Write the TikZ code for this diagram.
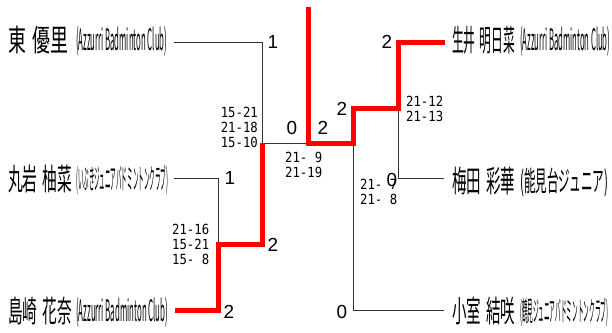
\documentclass[tikz,border=0pt]{standalone}
\usepackage{fontspec}
\setmainfont{Noto Sans CJK JP}
\newfontfamily\numfont{Liberation Sans}
\newfontfamily\scorefont[FakeStretch=0.88]{DejaVu Sans Mono}
\begin{document}
\begin{tikzpicture}[x=1bp,y=-1bp,
  wire/.style={draw=black!80, line width=1bp},
  win/.style={draw=red, line width=5bp, line join=miter},
  pname/.style={anchor=west, inner sep=0pt},
  club/.style={anchor=west, inner sep=0pt},
  pts/.style={inner sep=0pt, font=\numfont\fontsize{19}{19}\selectfont},
  score/.style={inner sep=0pt, align=left, font=\scorefont\fontsize{14}{15}\selectfont}]
\useasboundingbox (0,0) rectangle (612,332);
% players left
\node[pname] (n1) at (8,40) {\resizebox*{60bp}{28bp}{東\hspace{0.35em}優里}};
\node[club] (c1) at (76,41) {\resizebox*{91bp}{30bp}{(Azzurri Badminton Club)}};
\node[pname] (n2) at (8,179) {\resizebox*{64bp}{28bp}{丸岩\hspace{0.35em}柚菜}};
\node[club] (c2) at (76,180) {\resizebox*{92bp}{30bp}{(いぶきジュニアバドミントンクラブ)}};
\node[pname] (n3) at (8,311) {\resizebox*{64bp}{28bp}{島崎\hspace{0.35em}花奈}};
\node[club] (c3) at (76,312) {\resizebox*{92bp}{30bp}{(Azzurri Badminton Club)}};
% players right
\node[pname] (n4) at (452,40) {\resizebox*{63bp}{28bp}{生井\hspace{0.35em}明日菜}};
\node[club] (c4) at (520,41) {\resizebox*{90bp}{30bp}{(Azzurri Badminton Club)}};
\node[pname] (n5) at (452,181) {\resizebox*{63bp}{28bp}{梅田\hspace{0.35em}彩華}};
\node[club] (c5) at (520,182) {\resizebox*{88bp}{29bp}{(能見台ジュニア)}};
\node[pname] (n6) at (452,311) {\resizebox*{63bp}{28bp}{小室\hspace{0.35em}結咲}};
\node[club] (c6) at (520,312) {\resizebox*{88bp}{29bp}{(鶴見ジュニアバドミントンクラブ)}};
% bracket coordinates
\coordinate (p1) at (174,42);
\coordinate (p2) at (174,178);
\coordinate (p3) at (175,310);
\coordinate (q1) at (445,42);
\coordinate (q2) at (444,178);
\coordinate (q3) at (444,310);
\coordinate (m23) at (218,244);
\coordinate (sL) at (262,143);
\coordinate (f) at (308,143);
\coordinate (top) at (308,7);
\coordinate (m45) at (398,108);
\coordinate (sR) at (353,143);
% losing lines
\draw[wire] (p1) -| (sL);
\draw[wire] (p2) -| (m23);
\draw[wire] (sL) -- (f);
\draw[wire] (m45) |- (q2);
\draw[wire] (sR) |- (q3);
% winning lines
\draw[win] (p3) -| (m23) -| (sL);
\draw[win] (top) -- (f) -- (sR) |- (m45) |- (q1);
% points
\node[pts] (g1) at (273,42) {1};
\node[pts] (g2) at (230,178) {1};
\node[pts] (g3) at (229,312) {2};
\node[pts] (g23) at (273,245) {2};
\node[pts] (gL) at (292,128) {0};
\node[pts] (gR) at (323,128) {2};
\node[pts] (g45) at (342,109) {2};
\node[pts] (g4) at (387,42) {2};
\node[pts] (g5) at (392,180) {0};
\node[pts] (g6) at (342,312) {0};
% scores
\node[score, anchor=east] (s1) at (258,127) {15-21\\21-18\\15-10};
\node[score, anchor=west] (s2) at (172,244) {21-16\\15-21\\15- 8};
\node[score, anchor=west] (s3) at (285,164.5) {21- 9\\21-19};
\node[score, anchor=west] (s4) at (406,108.5) {21-12\\21-13};
\node[score, anchor=west] (s5) at (360,192) {21- 7\\21- 8};
\end{tikzpicture}
\end{document}
